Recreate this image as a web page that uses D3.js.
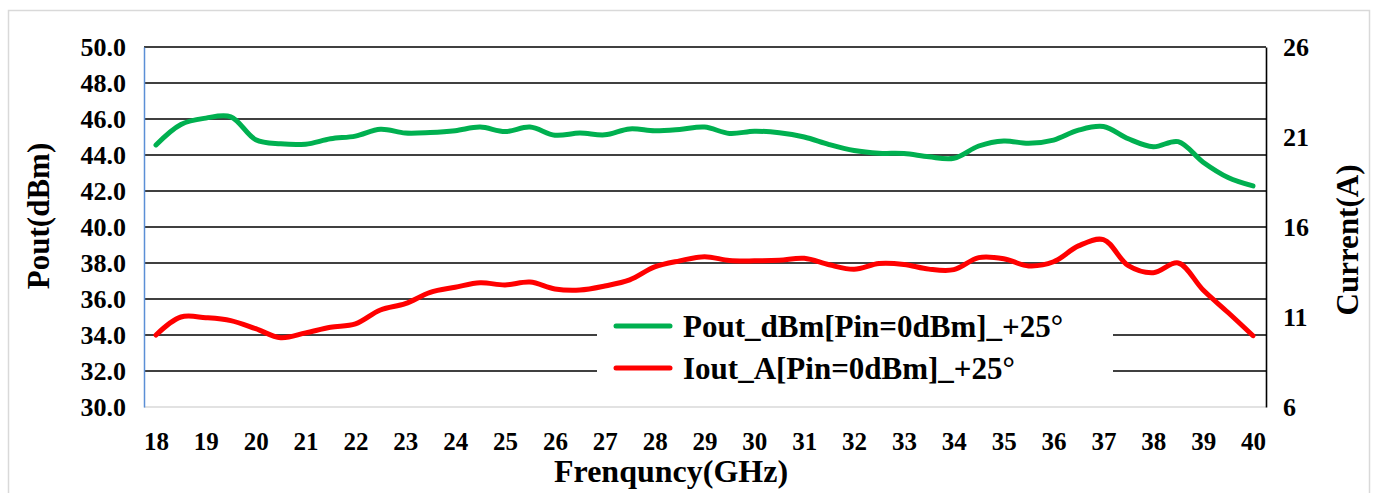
<!DOCTYPE html>
<html>
<head>
<meta charset="utf-8">
<script src="https://cdn.jsdelivr.net/npm/d3@7"></script>
<style>
  body { margin: 0; background: #fff; }
  svg text { font-family: "Liberation Serif", "Times New Roman", serif; font-weight: bold; fill: #000; }
</style>
</head>
<body>
<svg></svg>
<script>
// frequency points (GHz), every 0.5
let freqs = [18, 18.5, 19, 19.5, 20, 20.5, 21, 21.5, 22, 22.5, 23, 23.5, 24, 24.5, 25, 25.5,
    26, 26.5, 27, 27.5, 28, 28.5, 29, 29.5, 30, 30.5, 31, 31.5, 32, 32.5, 33, 33.5,
    34, 34.5, 35, 35.5, 36, 36.5, 37, 37.5, 38, 38.5, 39, 39.5, 40];

// Pout_dBm[Pin=0dBm]_+25°
let pout = [44.56, 45.7, 46.05, 46.12, 44.85, 44.62, 44.6, 44.9, 45.05, 45.43, 45.22, 45.25,
    45.35, 45.55, 45.3, 45.55, 45.1, 45.22, 45.12, 45.45, 45.35, 45.42, 45.55, 45.2,
    45.32, 45.24, 45.0, 44.58, 44.25, 44.1, 44.08, 43.9, 43.82, 44.5, 44.78, 44.65,
    44.83, 45.38, 45.58, 44.9, 44.46, 44.74, 43.6, 42.75, 42.28];

// Iout_A[Pin=0dBm]_+25°
let iout = [10.0, 11.0, 10.96, 10.8, 10.35, 9.85, 10.12, 10.43, 10.62, 11.39, 11.74, 12.37,
    12.65, 12.9, 12.78, 12.94, 12.56, 12.5, 12.72, 13.06, 13.78, 14.12, 14.35, 14.14,
    14.12, 14.15, 14.26, 13.9, 13.65, 13.97, 13.92, 13.66, 13.63, 14.3, 14.24, 13.84,
    14.07, 14.95, 15.3, 13.85, 13.46, 14.0, 12.5, 11.25, 9.96];

let xTicks = d3.range(18, 41, 1);
let leftTicks = [30, 32, 34, 36, 38, 40, 42, 44, 46, 48, 50];
let rightTicks = [6, 11, 16, 21, 26];

let seriesNames = ['Pout_dBm[Pin=0dBm]_+25°', 'Iout_A[Pin=0dBm]_+25°'];
let seriesColors = ['#00B050', '#FF0000'];

let width = 1373;
let height = 493;
let plot = { left: 144, right: 1266, top: 47, bottom: 407 };

let svg = d3.select('svg').attr('width', width).attr('height', height);

// outer frame
svg.append('rect')
    .attr('x', 8.5).attr('y', 10.5)
    .attr('width', 1361).attr('height', 495)
    .attr('fill', '#fff').attr('stroke', '#D9D9D9').attr('stroke-width', 1.5);

// scales - x categories sit a bit inside the plot edges
let xScale = d3.scaleLinear()
    .domain([18, 40])
    .range([plot.left + 12, plot.right - 13]);
let yLeft = d3.scaleLinear().domain([30, 50]).range([plot.bottom, plot.top]);
let yRight = d3.scaleLinear().domain([6, 26]).range([plot.bottom, plot.top]);

// horizontal gridlines
svg.append('g')
    .selectAll('line')
    .data(leftTicks)
    .enter()
    .append('line')
    .attr('x1', plot.left).attr('x2', plot.right)
    .attr('y1', d => yLeft(d)).attr('y2', d => yLeft(d))
    .attr('stroke', d => d === 30 ? '#D9D9D9' : '#000')
    .attr('stroke-width', 1.6);

// left axis (blue line) + labels
let leftAxis = svg.append('g')
    .attr('transform', 'translate(' + plot.left + ',0)')
    .call(d3.axisLeft(yLeft).tickValues(leftTicks).tickSize(0).tickPadding(18).tickFormat(d3.format('.1f')));
leftAxis.select('.domain').attr('stroke', '#5B8FD6').attr('stroke-width', 1.5);
leftAxis.selectAll('text').style('font-size', '26px');

// right axis (black line) + labels
let rightAxis = svg.append('g')
    .attr('transform', 'translate(' + plot.right + ',0)')
    .call(d3.axisRight(yRight).tickValues(rightTicks).tickSize(0).tickPadding(17));
rightAxis.select('.domain').attr('stroke', '#000').attr('stroke-width', 1.6);
rightAxis.selectAll('text').style('font-size', '26px');

// bottom labels
let bottomAxis = svg.append('g')
    .attr('transform', 'translate(0,' + plot.bottom + ')')
    .call(d3.axisBottom(xScale).tickValues(xTicks).tickSize(0).tickPadding(25).tickFormat(d3.format('d')));
bottomAxis.select('.domain').remove();
bottomAxis.selectAll('text').style('font-size', '25px');

// axis titles
svg.append('text')
    .attr('transform', 'translate(38,216) rotate(-90)')
    .attr('text-anchor', 'middle').attr('dominant-baseline', 'central')
    .style('font-size', '31px')
    .text('Pout(dBm)');

svg.append('text')
    .attr('transform', 'translate(1347,240) rotate(-90)')
    .attr('text-anchor', 'middle').attr('dominant-baseline', 'central')
    .style('font-size', '31px')
    .text('Current(A)');

svg.append('text')
    .attr('x', 671).attr('y', 482)
    .attr('text-anchor', 'middle')
    .style('font-size', '32px')
    .text('Frenquncy(GHz)');

// lines
let poutLine = d3.line()
    .x((d, i) => xScale(freqs[i]))
    .y(d => yLeft(d))
    .curve(d3.curveCatmullRom.alpha(0.5));

let ioutLine = d3.line()
    .x((d, i) => xScale(freqs[i]))
    .y(d => yRight(d))
    .curve(d3.curveCatmullRom.alpha(0.5));

// legend box covers gridlines
svg.append('rect')
    .attr('x', 597).attr('y', 306)
    .attr('width', 516).attr('height', 88)
    .attr('fill', '#fff');

svg.append('path')
    .datum(pout)
    .attr('d', poutLine)
    .attr('fill', 'none')
    .attr('stroke', seriesColors[0])
    .attr('stroke-width', 5)
    .attr('stroke-linejoin', 'round')
    .attr('stroke-linecap', 'round');

svg.append('path')
    .datum(iout)
    .attr('d', ioutLine)
    .attr('fill', 'none')
    .attr('stroke', seriesColors[1])
    .attr('stroke-width', 5)
    .attr('stroke-linejoin', 'round')
    .attr('stroke-linecap', 'round');

// legend
let legend = svg.append('g')
    .selectAll('g')
    .data(seriesNames)
    .enter()
    .append('g')
    .attr('transform', (d, i) => 'translate(0,' + (i * 42) + ')');

legend.append('line')
    .attr('x1', 616).attr('x2', 670)
    .attr('y1', 326).attr('y2', 326)
    .attr('stroke', (d, i) => seriesColors[i])
    .attr('stroke-width', 5)
    .attr('stroke-linecap', 'round');

legend.append('text')
    .attr('x', 683).attr('y', 337)
    .style('font-size', '31px')
    .text(d => d);
</script>
</body>
</html>
